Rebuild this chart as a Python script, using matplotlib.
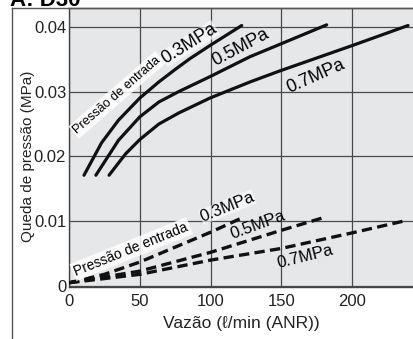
import matplotlib.pyplot as plt
from matplotlib.lines import Line2D

# solid curves (pressure drop vs. flow)
x_s03 = [10.6, 23, 35, 50, 63.5, 75.5, 85.5, 99.5, 122]
y_s03 = [0.0171, 0.0221, 0.0256, 0.0290, 0.0315, 0.0335, 0.0351, 0.0371, 0.0402]
x_s05 = [19, 35, 50, 63.5, 77.5, 99.5, 128, 149, 182]
y_s05 = [0.0171, 0.0225, 0.0261, 0.0284, 0.0300, 0.0323, 0.0354, 0.0373, 0.0403]
x_s07 = [28.3, 40, 50, 63.5, 77.5, 99.5, 128, 149, 200, 239.5]
y_s07 = [0.0171, 0.0204, 0.0226, 0.0250, 0.0267, 0.0290, 0.0315, 0.0332, 0.0371, 0.0402]

# dashed curves
x_d03 = [0, 25, 50, 75, 100, 122]
y_d03 = [0.0005, 0.0018, 0.0037, 0.0060, 0.0083, 0.0105]
x_d05 = [0, 50, 100, 150, 179]
y_d05 = [0.0005, 0.0023, 0.0052, 0.0086, 0.0105]
x_d07 = [0, 50, 100, 150, 200, 238]
y_d07 = [0.0005, 0.0018, 0.0040, 0.0058, 0.0082, 0.0101]

xticks = [0, 50, 100, 150, 200]
yticks = [0, 0.01, 0.02, 0.03, 0.04]
ytick_labels = ['0', '0.01', '0.02', '0.03', '0.04']

plt.rcParams['font.family'] = ['Liberation Sans', 'DejaVu Sans']

fig = plt.figure(figsize=(4.13, 3.39), dpi=100)
ax = fig.add_axes([69/413, 52/339, 344/413, 279/339])
ax.set_facecolor('#e6e7e9')

for xs, ys in [(x_s03, y_s03), (x_s05, y_s05), (x_s07, y_s07)]:
    ax.plot(xs, ys, color='#111111', lw=2.3, solid_capstyle='round',
            solid_joinstyle='round', zorder=3)
for xs, ys in [(x_d03, y_d03), (x_d05, y_d05), (x_d07, y_d07)]:
    ax.plot(xs, ys, color='#111111', lw=2.4, dashes=(3.1, 1.6), zorder=3)

ax.set_xlim(0, 243)
ax.set_ylim(-0.00015, 0.0429)
ax.set_xticks(xticks)
ax.set_yticks(yticks)
ax.set_yticklabels(ytick_labels)
ax.tick_params(length=0, labelsize=12, colors='#222222')
ax.tick_params(axis='x', pad=5)
ax.tick_params(axis='y', pad=2)
ax.grid(True, color='#4a4a4a', lw=0.9)
ax.set_axisbelow(True)
ax.spines['right'].set_visible(False)
for side in ['left', 'bottom', 'top']:
    ax.spines[side].set_color('#444444')
    ax.spines[side].set_linewidth(1.0)

ax.set_xlabel('Vazão (ℓ/min (ANR))', fontsize=12.5, color='#222222', labelpad=5)
ax.set_ylabel('Queda de pressão (MPa)', fontsize=11, color='#222222')
ax.yaxis.set_label_coords(-0.098, 0.47)

box = dict(facecolor='white', edgecolor='none', alpha=0.85, pad=1.5)
ax.text(34, 0.0295, 'Pressão de entrada', fontsize=9.2, rotation=41,
        ha='center', va='center', bbox=box, zorder=4)
ax.text(85, 0.0374, '0.3MPa', fontsize=13, rotation=32, ha='center', va='center',
        bbox=dict(facecolor='white', edgecolor='none', alpha=0.6, pad=0), zorder=4)
ax.text(121.5, 0.0368, '0.5MPa', fontsize=13, rotation=28, ha='center', va='center', zorder=4)
ax.text(174.5, 0.0324, '0.7MPa', fontsize=13, rotation=24, ha='center', va='center', zorder=4)

ax.text(44, 0.0057, 'Pressão de entrada', fontsize=10, rotation=22,
        ha='center', va='center', bbox=box, zorder=4)
ax.text(112, 0.0122, '0.3MPa', fontsize=12, rotation=22, ha='center', va='center',
        bbox=dict(facecolor='white', edgecolor='none', alpha=0.6, pad=0), zorder=4)
ax.text(133.5, 0.0094, '0.5MPa', fontsize=12, rotation=20, ha='center', va='center', zorder=4)
ax.text(167, 0.0045, '0.7MPa', fontsize=12, rotation=14, ha='center', va='center', zorder=4)

# outer frame of the original figure
fig.add_artist(Line2D([12/413, 12/413], [0, 331/339], color='#555555', lw=1.0))
fig.add_artist(Line2D([12/413, 1], [331/339, 331/339], color='#555555', lw=1.0))
fig.text(10/413, 1.0, 'A: D30', fontsize=16, fontweight='bold', va='center', ha='left')

fig.savefig('out.png', dpi=100)
